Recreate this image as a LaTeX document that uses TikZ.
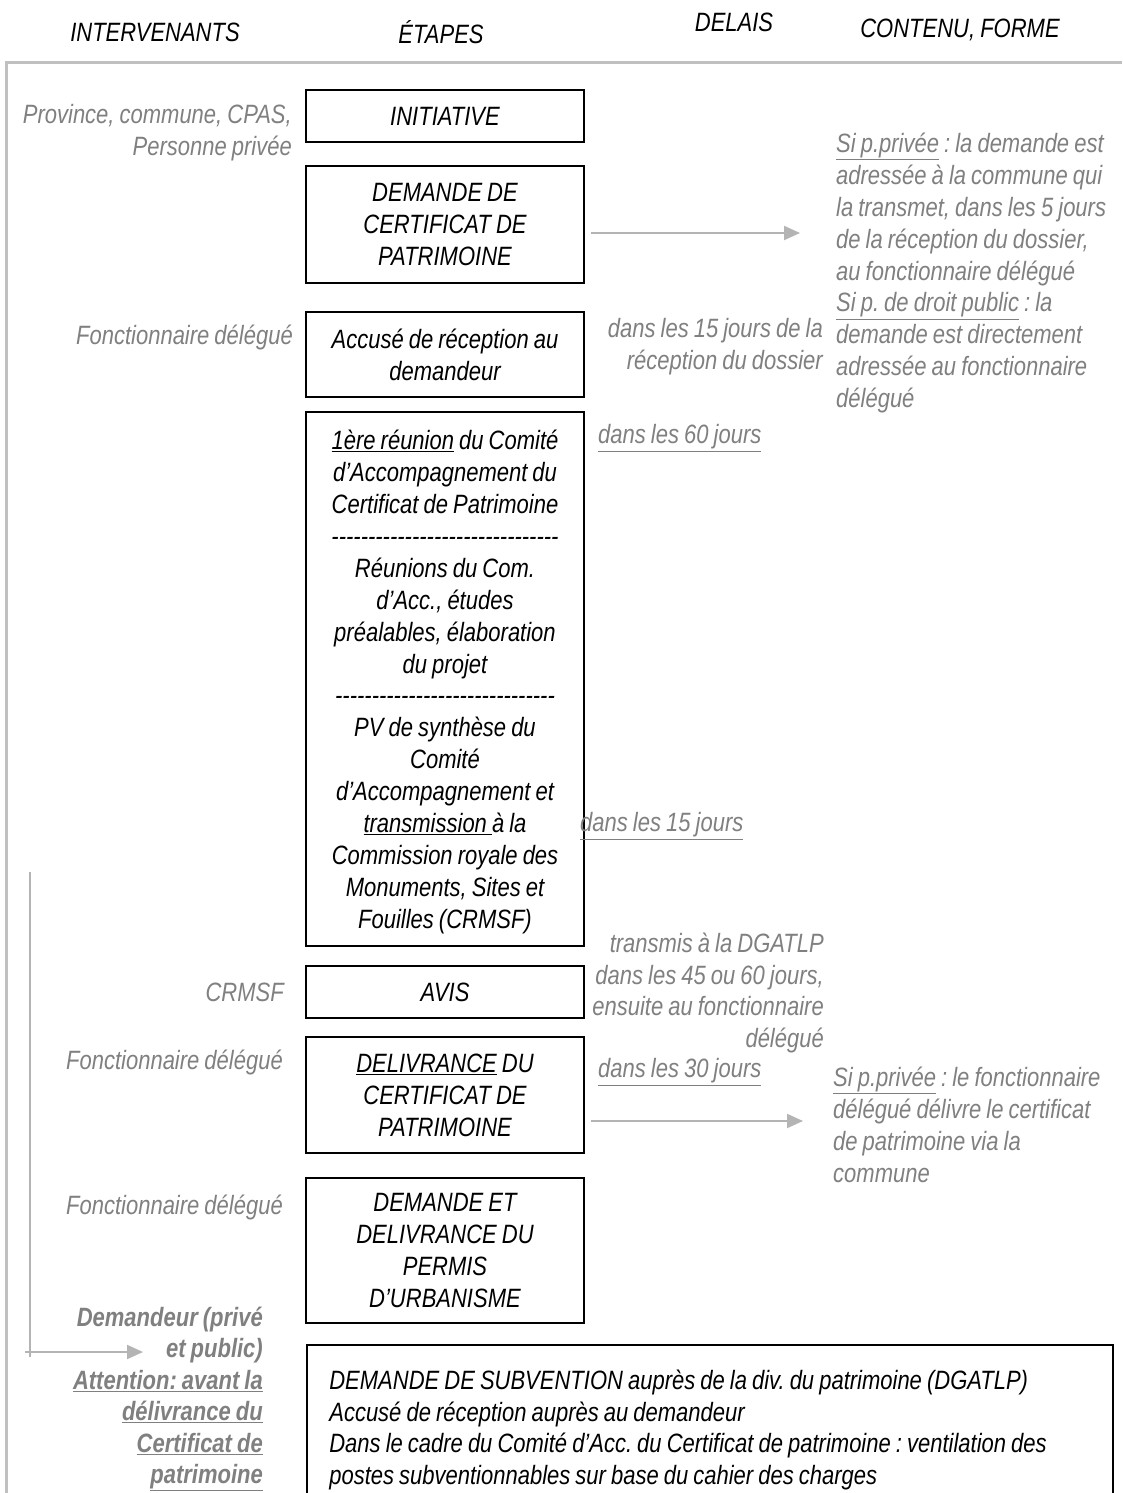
\documentclass[tikz,border=0pt]{standalone}
\usepackage{fontspec}
\setmainfont[FakeStretch=0.83, WordSpace=0.83]{Liberation Sans}
\usetikzlibrary{arrows.meta}
\definecolor{txtgray}{RGB}{128,128,128}
\definecolor{linegray}{RGB}{192,192,192}
\definecolor{arrowgray}{RGB}{180,180,180}
% a row of separate hyphens (no dash ligatures)
\newcount\hycnt
\newcommand\hyphenrow[1]{\hycnt=0 \loop\mbox{-}\advance\hycnt 1 \ifnum\hycnt<#1\repeat}
\frenchspacing

\begin{document}
\begin{tikzpicture}[x=1pt,y=-1pt,
  every node/.style={font=\fontsize{26.5}{31.9}\selectfont\itshape, inner sep=0pt},
  stepbox/.style={draw=black, line width=1.7pt, minimum width=278pt, align=center},
  side/.style={text=txtgray},
  head/.style={text=black},
  link/.style={draw=arrowgray, line width=2pt, -{Triangle[length=16pt,width=14pt,fill=arrowgray]}},
]
\useasboundingbox (0,0) rectangle (1122,1493);
\fill[white] (0,0) rectangle (1122,1493);

% column headings
\node[head] (hInt) at (155,32) {INTERVENANTS};
\node[head] (hEt)  at (441,32) {ÉTAPES};
\node[head] (hDel) at (734,22) {DELAIS};
\node[head] (hCon) at (960,30) {CONTENU, FORME};

% outer frame
\draw[linegray, line width=3pt] (1122,63) -- (6,63) -- (6,1493);

% procedure steps
\node[stepbox, minimum height=52pt]  (init) at (445,116) {INITIATIVE};
\node[stepbox, minimum height=117pt] (dem)  at (445,224.5) {DEMANDE DE\\CERTIFICAT DE\\PATRIMOINE};
\node[stepbox, minimum height=85pt]  (acc)  at (445,354.5) {Accusé de réception au\\demandeur};
\node[stepbox, minimum height=534pt, text height=512pt, text depth=0pt] (cac)  at (445,679) {};
\node (cactext) at (445,682) [align=center] {\underline{1ère réunion} du Comité\\d’Accompagnement du\\Certificat de Patrimoine\\\hyphenrow{31}\\Réunions du Com.\\d’Acc., études\\préalables, élaboration\\du projet\\\hyphenrow{30}\\PV de synthèse du\\Comité\\d’Accompagnement et\\\underline{transmission }à la\\Commission royale des\\Monuments, Sites et\\Fouilles (CRMSF)};
\node[stepbox, minimum height=52pt]  (avis) at (445,992) {AVIS};
\node[stepbox, minimum height=116pt] (deliv) at (445,1095) {\underline{DELIVRANCE} DU\\CERTIFICAT DE\\PATRIMOINE};
\node[stepbox, minimum height=145pt] (permis) at (445,1250.5) {DEMANDE ET\\DELIVRANCE DU\\PERMIS\\D’URBANISME};

% subsidy request (box runs past the lower edge)
\node[draw=black, line width=1.7pt, minimum width=806pt, minimum height=166pt] (subv) at (710,1428) {};
\node[anchor=west, align=left] (subvtext) at ([xshift=23pt, yshift=-2pt]subv.west)
  {DEMANDE DE SUBVENTION auprès de la div. du patrimoine (DGATLP)\\Accusé de réception auprès au demandeur\\Dans le cadre du Comité d’Acc. du Certificat de patrimoine : ventilation des\\postes subventionnables sur base du cahier des charges};

% actors
\node[side, anchor=east, align=right] (a1) at (292,133) {Province, commune, CPAS,\\Personne privée};
\node[side, anchor=east] (a2) at (293,337) {Fonctionnaire délégué};
\node[side, anchor=east] (a3) at (284,992) {CRMSF};
\node[side, anchor=east] (a4) at (283,1062) {Fonctionnaire délégué};
\node[side, anchor=east] (a5) at (283,1207) {Fonctionnaire délégué};
\node[side, anchor=east, align=right, font=\fontsize{26.5}{31.5}\selectfont\bfseries\itshape] (a6) at (263,1399)
  {Demandeur (privé\\et public)\\\underline{Attention: avant la}\\\underline{délivrance du}\\\underline{Certificat de}\\\underline{patrimoine}};

% time limits
\node[side, anchor=east, align=right] (d1) at (823,347) {dans les 15 jours de la\\réception du dossier};
\node[side, anchor=west] (d2) at (598,438) {\underline{dans les 60 jours}};
\node[side, anchor=west] (d3) at (580,826) {\underline{dans les 15 jours}};
\node[side, anchor=east, align=right] (d4) at (824,993) {transmis à la DGATLP\\dans les 45 ou 60 jours,\\ensuite au fonctionnaire\\délégué};
\node[side, anchor=west] (d5) at (598,1072) {\underline{dans les 30 jours}};

% content and form
\node[side, anchor=west, align=left] (c1) at (836,273) {\underline{Si p.privée} : la demande est\\adressée à la commune qui\\la transmet, dans les 5 jours\\de la réception du dossier,\\au fonctionnaire délégué\\\underline{Si p. de droit public} : la\\demande est directement\\adressée au fonctionnaire\\délégué};
\node[side, anchor=west, align=left] (c2) at (833,1125) {\underline{Si p.privée} : le fonctionnaire\\délégué délivre le certificat\\de patrimoine via la\\commune};

% connectors
\draw[link] ([shift={(6,8.5)}]dem.east) -- ([shift={(-36,8.5)}]dem.east -| c1.west);
\draw[link] ([shift={(6,26)}]deliv.east) -- ([shift={(-30,26)}]deliv.east -| c2.west);

\coordinate (lTop) at (30,872);
\coordinate (lBot) at (30,1357);
\coordinate (lStart) at (25,1352);
\coordinate (lEnd) at (143,1352);
\draw[arrowgray, line width=2pt] (lTop) -- (lBot);
\draw[link] (lStart) -- (lEnd);
\end{tikzpicture}
\end{document}
